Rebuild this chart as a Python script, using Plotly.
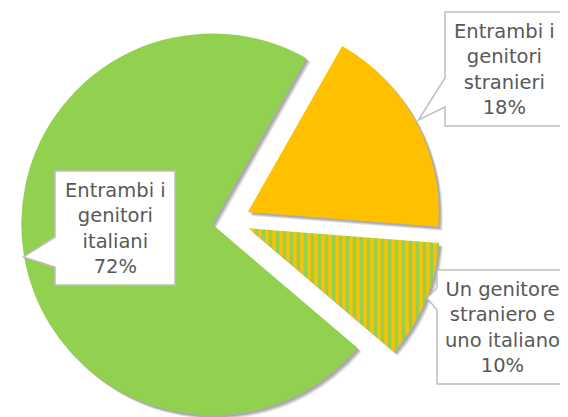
import plotly.graph_objects as go

# ---- data ----
labels = ["Entrambi i genitori stranieri",
          "Un genitore straniero e uno italiano",
          "Entrambi i genitori italiani"]
label_lines = [["Entrambi i", "genitori", "stranieri"],
               ["Un genitore", "straniero e", "uno italiano"],
               ["Entrambi i", "genitori", "italiani"]]
values = [18, 10, 72]

# ---- styling ----
OFF = 8                      # page body margin
W, H = 560, 440
GREEN = "#92D050"
YELLOW = "#FFC000"
slice_colors = [YELLOW, YELLOW, GREEN]
pattern_shapes = ["", "|", ""]
PULL = 0.1
ROT = 29.6

# pie box in screen pixels (center x, center y, half size)
CX, CY, HALF = 231 - OFF, 221 - OFF, 210


def dom(dx=0, dy=0):
    return dict(x=[(CX - HALF + dx) / W, (CX + HALF + dx) / W],
                y=[1 - (CY + HALF + dy) / H, 1 - (CY - HALF + dy) / H])


fig = go.Figure()

# soft drop shadow layers
for off, alpha in [(4, 0.10), (3, 0.12), (2, 0.15)]:
    fig.add_trace(go.Pie(
        labels=labels, values=values, sort=False, direction="clockwise",
        rotation=ROT, pull=[PULL] * len(values),
        marker=dict(colors=[f"rgba(0,0,0,{alpha})"] * len(values)),
        textinfo="none", hoverinfo="skip", showlegend=False,
        domain=dom(off, off)))

fig.add_trace(go.Pie(
    labels=labels, values=values, sort=False, direction="clockwise",
    rotation=ROT, pull=[PULL] * len(values),
    marker=dict(colors=slice_colors,
                pattern=dict(shape=pattern_shapes, fillmode="replace",
                             bgcolor=YELLOW, fgcolor=GREEN, fgopacity=1,
                             size=7, solidity=0.5)),
    textinfo="none", showlegend=False,
    domain=dom()))

# callout boxes (screen px: box x0,y0,x1,y1, notch y_a,y_b, tip x,y)
callouts = [
    (445, 12, 564, 126, 78, 107, 418.5, 120),
    (437, 270, 567, 384, 288, 310, 427, 298),
    (55, 171, 175, 285, 237, 267, 23.5, 257),
]


def P(x, y):
    return f"{(x - OFF) / W:.5f},{1 - (y - OFF) / H:.5f}"


shapes = []
annotations = []
for (x0, y0, x1, y1, ya, yb, tx, ty), lines, v in zip(callouts, label_lines, values):
    path = (f"M {P(x0, y0)} L {P(x1, y0)} L {P(x1, y1)} L {P(x0, y1)} "
            f"L {P(x0, yb)} L {P(tx, ty)} L {P(x0, ya)} Z")
    shapes.append(dict(type="path", xref="paper", yref="paper", path=path,
                       fillcolor="white", line=dict(color="#BFBFBF", width=1.5)))
    annotations.append(dict(
        xref="paper", yref="paper",
        x=((x0 + x1) / 2 - OFF) / W, y=1 - ((y0 + y1) / 2 - OFF) / H,
        xanchor="center", yanchor="middle", showarrow=False, align="center",
        text="<br>".join(lines + [f"{v}%"]),
        font=dict(family="DejaVu Sans", size=19.5, color="#595959")))

fig.update_layout(
    width=W, height=H,
    margin=dict(l=0, r=0, t=0, b=0),
    paper_bgcolor="white", plot_bgcolor="white",
    showlegend=False,
    shapes=shapes, annotations=annotations,
)

fig.write_html("out.html")
